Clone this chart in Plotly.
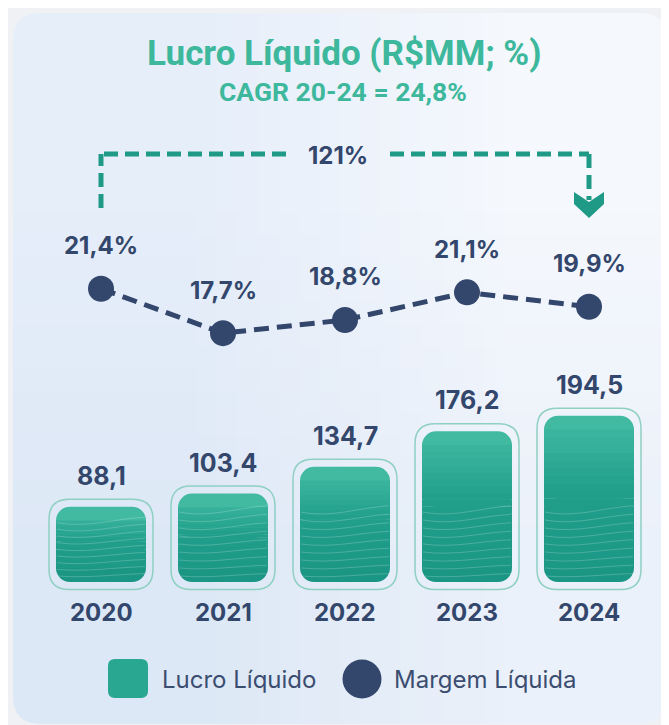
import base64
import struct
import zlib

import plotly.graph_objects as go

# ---------------- data ----------------
years = ["2020", "2021", "2022", "2023", "2024"]
lucro = [88.1, 103.4, 134.7, 176.2, 194.5]          # R$ MM
margem = [21.4, 17.7, 18.8, 21.1, 19.9]             # %
growth_label = "121%"
title_text = "Lucro Líquido (R$MM; %)"
subtitle_text = "CAGR 20-24 = 24,8%"
legend_names = ["Lucro Líquido", "Margem Líquida"]

# ---------------- layout constants (window pixels) ----------------
WIN_W, WIN_H = 669, 725
OFF = 8                                   # default page body margin
FW, FH = WIN_W - OFF, WIN_H - OFF         # figure size
X0_PX, DX_PX = 101, 122                   # pixel of first category, spacing
BASE_PX, K_BAR = 582, 0.855               # bar baseline pixel, px per R$MM
L_REF_V, L_REF_PX, K_LINE = 19.78, 308.2, 12.0

NAVY = "#33466b"
TITLE_TEAL = "#3db89c"
DASH_TEAL = "#1f9a87"
FRAME = "#8fd0c3"
PAGE = "#eff1f5"
FONT = "Inter, Roboto, sans-serif"

INNER_W = 90 / DX_PX
OUTER_W = 104 / DX_PX
PADY = 7.5 / K_BAR
R_IN = 14
R_U = R_IN / K_BAR
R_OUT = 20
CARD_BOX = (13, 13, 667, 724)
CARD_R = 28

xs = list(range(len(years)))


def px(x):
    return (x - OFF) / FW


def py(y):
    return 1 - (y - OFF) / FH


def grad(f):
    stops = [(0.0, (27, 150, 133)), (0.55, (33, 159, 139)), (1.0, (67, 187, 163))]
    f = min(max(f, 0.0), 1.0)
    for (f0, c0), (f1, c1) in zip(stops[:-1], stops[1:]):
        if f <= f1:
            t = (f - f0) / (f1 - f0)
            c = [round(a + (b - a) * t) for a, b in zip(c0, c1)]
            return "rgb(%d,%d,%d)" % tuple(c)
    return "rgb(%d,%d,%d)" % stops[-1][1]


def png_data_uri(rows):
    """tiny RGB png -> data uri (used as a stretched background gradient)"""
    h, w = len(rows), len(rows[0])
    raw = b"".join(b"\x00" + bytes([c for p in r for c in p]) for r in rows)

    def chunk(t, d):
        return struct.pack(">I", len(d)) + t + d + struct.pack(">I", zlib.crc32(t + d) & 0xffffffff)
    png = (b"\x89PNG\r\n\x1a\n" + chunk(b"IHDR", struct.pack(">IIBBBBB", w, h, 8, 2, 0, 0, 0))
           + chunk(b"IDAT", zlib.compress(raw)) + chunk(b"IEND", b""))
    return "data:image/png;base64," + base64.b64encode(png).decode()


def rr_path(x0, y0, x1, y1, rx, ry, conv):
    sx = 1 if x1 > x0 else -1
    sy = 1 if y1 > y0 else -1
    rx, ry = abs(rx) * sx, abs(ry) * sy
    seq = [("M", [(x0 + rx, y0)]), ("L", [(x1 - rx, y0)]), ("Q", [(x1, y0), (x1, y0 + ry)]),
           ("L", [(x1, y1 - ry)]), ("Q", [(x1, y1), (x1 - rx, y1)]), ("L", [(x0 + rx, y1)]),
           ("Q", [(x0, y1), (x0, y1 - ry)]), ("L", [(x0, y0 + ry)]), ("Q", [(x0, y0), (x0 + rx, y0)])]
    s = ""
    for cmd, ps in seq:
        s += cmd + " " + " ".join("%.5f,%.5f" % conv(a, b) for a, b in ps) + " "
    return s + "Z"


def paper_conv(a, b):
    return px(a), py(b)


def data_conv(a, b):
    return a, b


fig = go.Figure()


def add_bar(base, y, width, color, radius, yaxis="y"):
    fig.add_trace(go.Bar(x=xs, y=y, base=base, width=width, yaxis=yaxis,
                         marker=dict(color=color, line=dict(width=0), cornerradius=radius),
                         hoverinfo="skip", showlegend=False))


half = [v / 2 for v in lucro]
# top half with rounded top (normal axis)
add_bar(half, half, INNER_W, grad(0.985), R_IN, "y")
# bottom half with rounded bottom (reversed axis y2: u = -y)
add_bar([-(h + 0.5) for h in half], [h + 0.5 for h in half], INNER_W, grad(0.02), R_IN, "y2")
# square gradient slices between the rounded ends (on y2, u = -y)
NS = 18
for k in range(NS):
    bases, heights, cols = [], [], []
    for v in lucro:
        lo, hi = R_U, v - R_U
        step = (hi - lo) / NS
        b = lo + step * k
        bases.append(-(b + step + 0.35))
        heights.append(step + 0.35)
        cols.append(grad((b + step / 2) / v))
    add_bar(bases, heights, INNER_W, cols, 0, "y2")

# margin line (topmost axis)
fig.add_trace(go.Scatter(x=xs, y=margem, yaxis="y3", mode="lines+markers",
                         line=dict(color=NAVY, width=5, dash="15px,8px"),
                         marker=dict(size=26, color=NAVY),
                         hoverinfo="skip", showlegend=False))

ann = []
for i, v in enumerate(lucro):
    ann.append(dict(x=i, y=v, xref="x", yref="y", yshift=31, showarrow=False,
                    xanchor="center", yanchor="middle",
                    text=("%.1f" % v).replace(".", ","),
                    font=dict(family=FONT, size=25, color=NAVY, weight="bold")))
    ann.append(dict(x=i, y=0, xref="x", yref="y", yshift=-30, showarrow=False,
                    xanchor="center", yanchor="middle",
                    text=years[i], font=dict(family=FONT, size=24, color=NAVY, weight="bold")))
for i, m in enumerate(margem):
    ann.append(dict(x=i, y=m, xref="x", yref="y3", yshift=43, showarrow=False,
                    xanchor="center", yanchor="middle",
                    text=("%.1f%%" % m).replace(".", ","),
                    font=dict(family=FONT, size=24, color=NAVY, weight="bold")))


def text_ann(x, y, text, size, color, family=FONT, xanchor="center", bold=True):
    return dict(x=px(x), y=py(y), xref="paper", yref="paper", xanchor=xanchor, yanchor="middle",
                showarrow=False, text=text,
                font=dict(family=family, size=size, color=color, weight="bold" if bold else "normal"))


ann.append(text_ann(343.5, 53, title_text, 35, TITLE_TEAL, "Roboto, sans-serif"))
ann.append(text_ann(343, 92, subtitle_text, 26.5, TITLE_TEAL, "Roboto, sans-serif"))
ann.append(text_ann(338, 155, growth_label, 24, NAVY))
ann.append(text_ann(160, 679, legend_names[0], 24, "#3b4d70", xanchor="left", bold=False))
ann.append(text_ann(392, 679, legend_names[1], 24, "#3b4d70", xanchor="left", bold=False))

# card background: stretched tiny gradient image + corner masks
cx0, cy0, cx1, cy1 = CARD_BOX
images = [dict(source=png_data_uri([[(230, 238, 250), (245, 248, 253)],
                                    [(221, 232, 246), (235, 241, 250)]]),
               xref="paper", yref="paper", x=px(cx0), y=py(cy0),
               sizex=(cx1 - cx0) / FW, sizey=(cy1 - cy0) / FH,
               xanchor="left", yanchor="top", sizing="stretch", layer="below")]

dash_line = dict(color=DASH_TEAL, width=5, dash="14px,7px")
shapes = []
for (ax, ay, sx, sy) in [(cx0, cy0, 1, 1), (cx1, cy0, -1, 1), (cx0, cy1, 1, -1), (cx1, cy1, -1, -1)]:
    shapes.append(dict(type="path", xref="paper", yref="paper", layer="below",
                       path="M %f,%f L %f,%f Q %f,%f %f,%f Z" % (
                           px(ax), py(ay), px(ax + sx * CARD_R), py(ay),
                           px(ax), py(ay), px(ax), py(ay + sy * CARD_R)),
                       fillcolor=PAGE, line=dict(width=0)))
shapes += [
    dict(type="line", xref="x", yref="paper", x0=0, x1=0, y0=py(208), y1=py(154), line=dash_line),
    dict(type="line", xref="paper", yref="paper", x0=px(104), x1=px(289), y0=py(154), y1=py(154), line=dash_line),
    dict(type="line", xref="paper", yref="paper", x0=px(390), x1=px(589), y0=py(154), y1=py(154), line=dash_line),
    dict(type="line", xref="x", yref="paper", x0=4, x1=4, y0=py(154), y1=py(200), line=dash_line),
    dict(type="path", xref="paper", yref="paper",
         path="M %f,%f L %f,%f L %f,%f L %f,%f L %f,%f L %f,%f Z" % (
             px(574), py(192), px(589), py(202), px(604), py(192),
             px(604), py(204), px(589), py(218), px(574), py(204)),
         fillcolor=DASH_TEAL, line=dict(width=0)),
    dict(type="path", xref="paper", yref="paper",
         path=rr_path(108, 659, 148, 698, 7, 7, paper_conv), fillcolor="#2aa791", line=dict(width=0)),
    dict(type="circle", xref="paper", yref="paper", x0=px(342.5), x1=px(381.5),
         y0=py(698.5), y1=py(659.5), fillcolor=NAVY, line=dict(width=0)),
]
# thin teal frames around each bar + faint wave texture (data coordinates)
for i, v in enumerate(lucro):
    shapes.append(dict(type="path", xref="x", yref="y", layer="below",
                       path=rr_path(i - OUTER_W / 2, -PADY, i + OUTER_W / 2, v + PADY,
                                    R_OUT / DX_PX, R_OUT / K_BAR, data_conv),
                       fillcolor="rgba(0,0,0,0)", line=dict(color=FRAME, width=1.5)))
    xl, xr = i - INNER_W / 2 + 1 / DX_PX, i + INNER_W / 2 - 1 / DX_PX
    wmax = min(70, v * K_BAR - 16)
    for j in range(9):
        hpx = 6 + j * (wmax - 6) / 8
        amp = 2 + 0.06 * hpx
        y0, y1 = hpx / K_BAR, (hpx + amp) / K_BAR
        w = xr - xl
        shapes.append(dict(type="path", xref="x", yref="y", layer="above",
                           path="M %f,%f C %f,%f %f,%f %f,%f" % (
                               xl, y0, xl + 0.35 * w, y0 - amp / K_BAR,
                               xl + 0.65 * w, y1 - 0.3 * amp / K_BAR, xr, y1),
                           line=dict(color="rgba(255,255,255,0.2)", width=1)))

y_lo = -(FH - (BASE_PX - OFF)) / K_BAR
y_hi = (BASE_PX - OFF) / K_BAR
l_px = L_REF_PX - OFF
fig.update_layout(
    width=FW, height=FH, autosize=False,
    margin=dict(l=0, r=0, t=0, b=0, pad=0),
    paper_bgcolor=PAGE, plot_bgcolor="rgba(0,0,0,0)",
    barmode="overlay", showlegend=False,
    xaxis=dict(range=[-(X0_PX - OFF) / DX_PX, (FW - (X0_PX - OFF)) / DX_PX],
               visible=False, fixedrange=True),
    yaxis=dict(range=[y_lo, y_hi], visible=False, fixedrange=True),
    yaxis2=dict(range=[-y_lo, -y_hi], overlaying="y", visible=False, fixedrange=True),
    yaxis3=dict(range=[L_REF_V - (FH - l_px) / K_LINE, L_REF_V + l_px / K_LINE],
                overlaying="y", visible=False, fixedrange=True),
    annotations=ann, shapes=shapes, images=images,
)

fig.write_html("out.html")
